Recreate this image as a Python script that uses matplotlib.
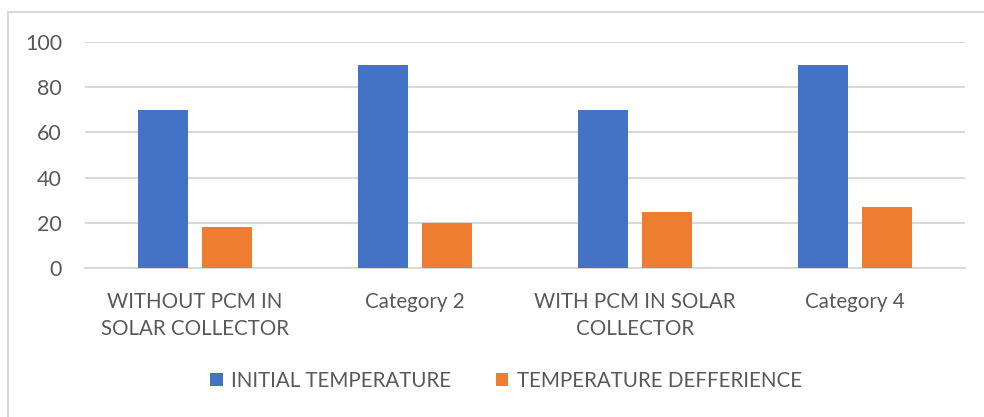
import numpy as np
import matplotlib.pyplot as plt
from matplotlib.patches import Rectangle

plt.rcParams['font.family'] = ['Lato', 'DejaVu Sans']

categories = ["WITHOUT PCM IN\nSOLAR COLLECTOR", "Category 2",
              "WITH PCM IN SOLAR\nCOLLECTOR", "Category 4"]
initial_temp = [70, 90, 70, 90]
temp_diff = [18, 20, 25, 27]
series_names = ["INITIAL TEMPERATURE", "TEMPERATURE DEFFERIENCE"]

blue = "#4472C4"
orange = "#ED7D31"
text_gray = "#595959"
grid_gray = "#D9D9D9"

fig = plt.figure(figsize=(9.84, 4.17), dpi=100)
ax = fig.add_axes([85 / 984, 1 - 268 / 417, 880 / 984, 226 / 417])

# chart frame, cut off on the right and bottom
fig.patches.append(Rectangle((8 / 984, -0.1), 1.2, 1 - 12 / 417 + 0.1,
                             transform=fig.transFigure, fill=False,
                             edgecolor=grid_gray, linewidth=1.5))

x = np.arange(len(categories))
w = 0.227
off = 0.146
ax.bar(x - off, initial_temp, w, color=blue, label=series_names[0], zorder=3)
ax.bar(x + off, temp_diff, w, color=orange, label=series_names[1], zorder=3)

ax.set_xlim(-0.5, len(categories) - 0.5)
ax.set_ylim(0, 100)
ax.set_yticks(range(0, 101, 20))
ax.yaxis.grid(True, color=grid_gray, linewidth=1.5, zorder=0)
ax.set_axisbelow(True)
for s in ["top", "right", "left"]:
    ax.spines[s].set_visible(False)
ax.spines["bottom"].set_color(grid_gray)
ax.spines["bottom"].set_linewidth(1.5)
ax.tick_params(axis="both", length=0, colors=text_gray, labelsize=14.8)
ax.tick_params(axis="y", labelsize=15.5, pad=16.5)
ax.tick_params(axis="x", pad=17)
ax.set_xticks(x)
ax.set_xticklabels(categories, linespacing=1.45)

fig.legend(loc="center", bbox_to_anchor=(506 / 984, 1 - 381 / 417), ncol=2,
           frameon=False, fontsize=14.8, labelcolor=text_gray,
           handlelength=0.6, handleheight=0.6, handletextpad=0.4,
           columnspacing=2.2)

fig.savefig("out.png", dpi=100)
